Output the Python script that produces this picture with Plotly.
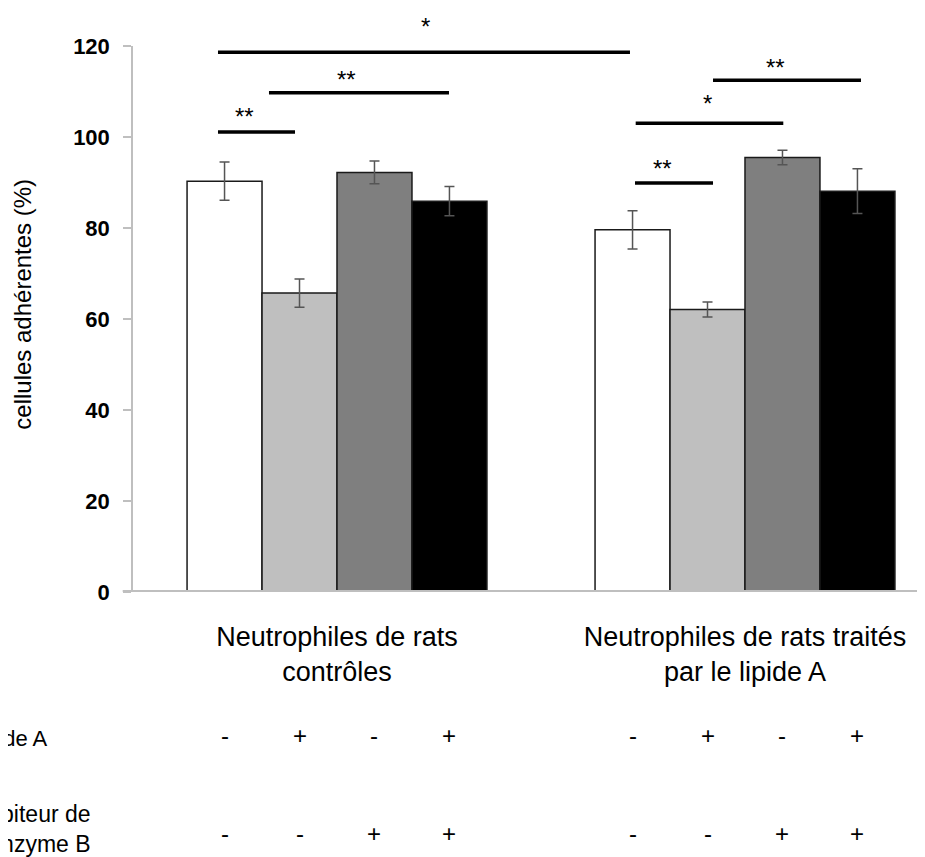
import plotly.graph_objects as go

# ---- data ----
groups = [0, 1]
group_labels = ["Neutrophiles de rats<br>contrôles", "Neutrophiles de rats traités<br>par le lipide A"]
series_names = ["- / -", "+ / -", "- / +", "+ / +"]
series_colors = ["#FFFFFF", "#BFBFBF", "#7F7F7F", "#000000"]
values = [
    [90.3, 79.6],   # lipide A -, inhibiteur -
    [65.7, 62.1],   # lipide A +, inhibiteur -
    [92.2, 95.5],   # lipide A -, inhibiteur +
    [85.9, 88.1],   # lipide A +, inhibiteur +
]
errors = [
    [4.2, 4.2],
    [3.1, 1.65],
    [2.5, 1.6],
    [3.2, 4.9],
]
lipideA_signs = ["-", "+", "-", "+"]
inhib_signs = ["-", "-", "+", "+"]
row_labels = ["Lipide A", "Inhibiteur de<br>granzyme B"]
y_title = "cellules adhérentes (%)"

# significance brackets: (x0, x1, y_line, label, x_label, y_label)
sig_lines = [
    (-0.2917, 0.7181, 118.6, "*", 0.2174, 124.2),
    (-0.1667, 0.2745, 109.7, "**", 0.0245, 112.7),
    (-0.2917, -0.1029, 101.1, "**", -0.2255, 104.6),
    (0.7321, 1.0939, 103.0, "*", 0.9086, 107.3),
    (0.7304, 0.9216, 89.9, "**", 0.7966, 93.0),
    (0.9216, 1.2843, 112.5, "**", 1.0752, 115.2),
]

FONT = "Liberation Sans, Arial, sans-serif"
bargap = 0.265
y_max = 120

fig = go.Figure()
for i in range(4):
    fig.add_trace(go.Bar(
        x=groups, y=values[i], name=series_names[i],
        marker=dict(color=series_colors[i], line=dict(color="#1a1a1a", width=1.5)),
        error_y=dict(type="data", array=errors[i], visible=True,
                     color="#555555", thickness=1.5, width=5),
        showlegend=False,
    ))

# significance lines & stars
for x0, x1, yl, lab, xs, ys in sig_lines:
    fig.add_shape(type="line", xref="x", yref="y", x0=x0, x1=x1, y0=yl, y1=yl,
                  line=dict(color="black", width=3.5))
    fig.add_annotation(x=xs, y=ys / y_max, xref="x", yref="paper", text=lab, showarrow=False,
                       font=dict(family=FONT, size=24, color="black"),
                       xanchor="center", yanchor="middle")

# x axis line (thick gray), slightly extended to the left
fig.add_shape(type="line", xref="paper", yref="y", x0=-0.013, x1=1, y0=0, y1=0,
              line=dict(color="#BFBFBF", width=4))

# +/- rows
n = 4
w = (1 - bargap) / n
for g in groups:
    for i in range(n):
        xc = g - (1 - bargap) / 2 + w * (i + 0.5)
        fig.add_annotation(x=xc, y=-0.2637, xref="x", yref="paper", text=lipideA_signs[i],
                           showarrow=False, font=dict(family=FONT, size=24, color="black"),
                           xanchor="center", yanchor="middle")
        fig.add_annotation(x=xc, y=-0.4414, xref="x", yref="paper", text=inhib_signs[i],
                           showarrow=False, font=dict(family=FONT, size=24, color="black"),
                           xanchor="center", yanchor="middle")

fig.add_annotation(x=-0.1048, y=-0.2674, xref="paper", yref="paper", text=row_labels[0],
                   showarrow=False, font=dict(family=FONT, size=22, color="black"),
                   xanchor="right", yanchor="middle", align="right")
fig.add_annotation(x=-0.0505, y=-0.434, xref="paper", yref="paper", text=row_labels[1],
                   showarrow=False, font=dict(family=FONT, size=23, color="black"),
                   xanchor="right", yanchor="middle", align="right")

# y axis title
fig.add_annotation(x=-0.1389, y=0.528, xref="paper", yref="paper", text=y_title,
                   textangle=-90, showarrow=False,
                   font=dict(family=FONT, size=24, color="black"),
                   xanchor="center", yanchor="middle")

# page has an 8px body margin: shrink the figure so the plot lands where the reference has it
fig.update_layout(
    width=917, height=849,
    margin=dict(l=125, r=0, t=38, b=265),
    paper_bgcolor="white", plot_bgcolor="white",
    barmode="group", bargap=bargap, bargroupgap=0,
    font=dict(family=FONT, color="black"),
    xaxis=dict(range=[-0.5, 1.4412], tickvals=groups, ticktext=group_labels,
               showline=False, showgrid=False, zeroline=False, ticks="",
               tickfont=dict(family=FONT, size=27, color="black"),
               ticklabelstandoff=26),
    yaxis=dict(range=[0, y_max], dtick=20, showgrid=False, zeroline=False,
               showline=True, linecolor="#BFBFBF", linewidth=1.5,
               ticks="outside", ticklen=8, tickcolor="#BFBFBF", tickwidth=1.5,
               ticklabelstandoff=9,
               tickfont=dict(family=FONT, size=22, color="black", weight="bold")),
)

fig.write_html("out.html")
